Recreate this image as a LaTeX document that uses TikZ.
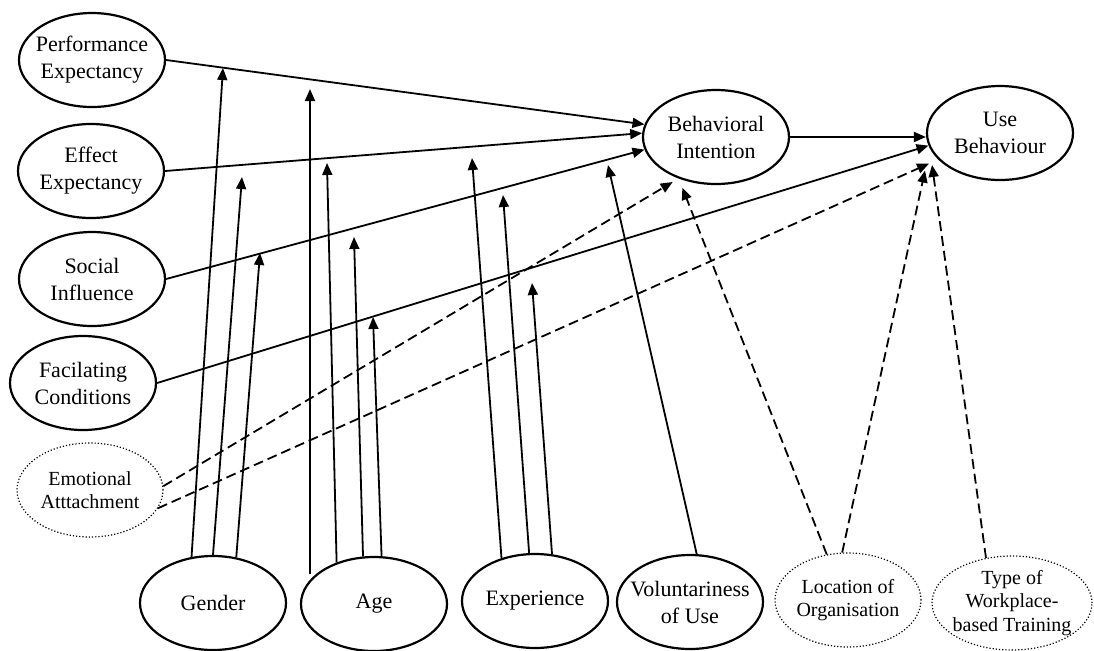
\documentclass[tikz,border=0pt]{standalone}
\usepackage{fontspec}
\setmainfont{Liberation Serif}
\usetikzlibrary{shapes.geometric}
\usetikzlibrary{arrows.meta}

\begin{document}
\begin{tikzpicture}[x=0.5pt, y=-0.5pt,
	construct/.style={ellipse, draw, line width=1.1pt, minimum width=73pt, minimum height=47pt, inner xsep=-5pt, inner ysep=0pt, align=center, font=\fontsize{11}{13.5}\selectfont},
	newconstruct/.style={construct, line width=0.6pt, densely dotted, font=\fontsize{10}{11.7}\selectfont},
	link/.style={line width=0.9pt, -{Triangle[length=6pt,width=5pt]}},
	newlink/.style={link, dash pattern=on 5pt off 2.5pt}]

	\useasboundingbox (0,0) rectangle (1094,650);

	% Determinants %
	\node[construct] (PE) at (92,60) {Performance\\Expectancy};
	\node[construct] (EE) at (91,171) {Effect\\Expectancy};
	\node[construct] (SI) at (92,279) {Social\\Influence};
	\node[construct] (FC) at (83,383) {Facilating\\Conditions};
	\node[newconstruct] (EA) at (90,490) {Emotional\\Atttachment};
	% Outcomes %
	\node[construct] (BI) at (716,137) {Behavioral\\Intention};
	\node[construct] (UB) at (1000,133) {Use\\Behaviour};
	% Moderators %
	\node[construct] (Gender) at (213,603) {Gender};
	\node[construct] (Age) at (374,604) {Age};
	\node[construct] (Exp) at (535,601) {Experience};
	\node[construct] (Vol) at (690,602) {Voluntariness\\of Use};
	\node[newconstruct] (Loc) at (848,600) {Location of\\Organisation};
	\node[newconstruct, minimum width=80pt] (Type) at (1012,603) {Type of\\Workplace-\\based Training};

	% Main paths %
	\draw[link] (PE.east) -- (BI.170);
	\draw[link] (EE.east) -- (BI.177);
	\draw[link] (SI.east) -- (BI.190);
	\draw[link] (FC.east) -- (UB.190);
	\draw[link] (BI.east) -- (BI.east -| UB.west);
	% New paths %
	\draw[newlink] (EA.3) -- ([yshift=-3pt]BI.222);
	\draw[newlink] (EA.-15) -- ([shift={(-7.8pt,0.7pt)}]UB.210);
	\draw[newlink] (Loc.115) -- ([shift={(-1.5pt,-3.5pt)}]BI.235);
	\draw[newlink] (Loc.97) -- ([shift={(-9.8pt,-2.8pt)}]UB.210);
	\draw[newlink] (Type.120) -- ([xshift=-6.3pt]UB.210);

	% Moderating effects %
	\coordinate (g1) at (223,68);
	\coordinate (g2) at (242,177);
	\coordinate (g3) at (260,253);
	\coordinate (a1) at (310,89);
	\coordinate (a2) at (327,163);
	\coordinate (a3) at (354,237);
	\coordinate (a4) at (373,317);
	\coordinate (e1) at (472,158);
	\coordinate (e2) at (503,195);
	\coordinate (e3) at (532,283);
	\coordinate (v1) at (608,165);
	\draw[link] (a1 |- Age.152) -- (a1);
	\foreach \src/\dst in {Gender.115/g1, Gender.north/g2, Gender.63/g3, Age.132/a2, Age.103/a3, Age.81/a4, Exp.128/e1, Exp.97/e2, Exp.70/e3, Vol.82/v1}
		\draw[link] (\src) -- (\dst);
\end{tikzpicture}
\end{document}
